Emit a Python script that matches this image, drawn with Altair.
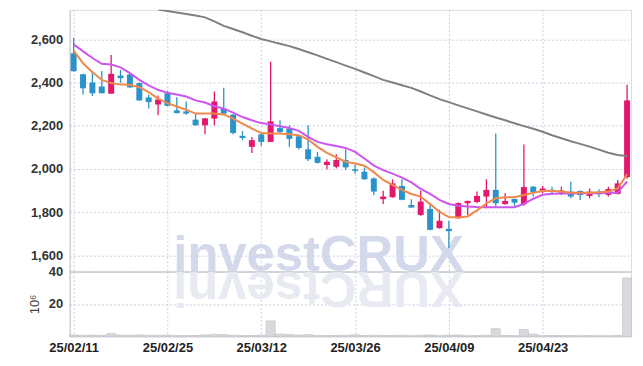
import altair as alt
import pandas as pd

# ---------------- data ----------------
dates = [
    "25/02/11", "25/02/12", "25/02/13", "25/02/14", "25/02/17", "25/02/18", "25/02/19", "25/02/20",
    "25/02/21", "25/02/24", "25/02/25", "25/02/26", "25/02/27", "25/02/28", "25/03/04", "25/03/05",
    "25/03/06", "25/03/07", "25/03/10", "25/03/11", "25/03/12", "25/03/13", "25/03/14", "25/03/17",
    "25/03/18", "25/03/19", "25/03/20", "25/03/21", "25/03/24", "25/03/25", "25/03/26", "25/03/27",
    "25/03/28", "25/03/31", "25/04/01", "25/04/02", "25/04/03", "25/04/04", "25/04/07", "25/04/08",
    "25/04/09", "25/04/10", "25/04/11", "25/04/14", "25/04/15", "25/04/16", "25/04/17", "25/04/18",
    "25/04/21", "25/04/22", "25/04/23", "25/04/24", "25/04/25", "25/04/28", "25/04/29", "25/04/30",
    "25/05/02", "25/05/07", "25/05/08", "25/05/09",
]

opens = [2535, 2438, 2400, 2381, 2348, 2432, 2437, 2397, 2331, 2298,
         2350, 2271, 2266, 2228, 2202, 2233, 2279, 2251, 2153, 2102,
         2160, 2125, 2189, 2187, 2151, 2091, 2056, 2018, 2010, 2041,
         1998, 1987, 1956, 1860, 1869, 1921, 1833, 1787, 1815, 1726,
         1723, 1772, 1841, 1847, 1872, 1903, 1837, 1861, 1837, 1918,
         1899, 1903, 1890, 1895, 1898, 1875, 1895, 1880, 1884, 1962]
highs = [2607, 2440, 2452, 2453, 2527, 2458, 2440, 2400, 2343, 2340,
         2360, 2332, 2312, 2256, 2236, 2358, 2375, 2253, 2175, 2148,
         2162, 2496, 2225, 2202, 2155, 2202, 2079, 2044, 2068, 2091,
         2018, 2007, 1960, 1899, 1952, 1952, 1860, 1899, 1837, 1811,
         1760, 1845, 1853, 1895, 1952, 2164, 1887, 1862, 2113, 1920,
         1921, 1918, 1918, 1941, 1900, 1910, 1906, 1918, 1949, 2389]
lows = [2450, 2344, 2337, 2350, 2348, 2397, 2375, 2315, 2279, 2248,
        2290, 2258, 2251, 2200, 2160, 2202, 2253, 2160, 2133, 2074,
        2106, 2125, 2164, 2102, 2090, 2037, 2025, 1998, 2002, 1995,
        1979, 1950, 1879, 1838, 1867, 1855, 1820, 1783, 1716, 1724,
        1634, 1770, 1787, 1841, 1818, 1826, 1835, 1826, 1829, 1872,
        1887, 1879, 1879, 1864, 1856, 1864, 1869, 1872, 1882, 1955]
closes = [2452, 2373, 2350, 2350, 2440, 2420, 2377, 2317, 2309, 2321,
          2292, 2258, 2256, 2202, 2234, 2312, 2256, 2166, 2143, 2133,
          2125, 2220, 2171, 2139, 2097, 2045, 2028, 2033, 2041, 2007,
          1991, 1952, 1895, 1872, 1933, 1857, 1821, 1849, 1718, 1760,
          1712, 1842, 1852, 1875, 1903, 1841, 1852, 1844, 1916, 1893,
          1909, 1893, 1900, 1872, 1879, 1895, 1883, 1907, 1933, 2317]

# volume in millions of shares
volumes = [0.8, 0.6, 0.7, 0.5, 1.6, 0.7, 0.6, 0.8, 0.6, 0.6,
           0.7, 0.4, 0.4, 0.5, 0.8, 1.2, 1.0, 0.6, 0.4, 0.5,
           0.6, 9.5, 1.3, 1.0, 0.7, 1.1, 0.5, 0.4, 0.5, 0.6,
           0.9, 0.5, 0.6, 0.4, 0.5, 0.6, 0.3, 0.6, 0.8, 0.4,
           0.7, 0.8, 0.3, 0.4, 0.6, 4.7, 0.5, 0.4, 4.2, 1.3,
           0.4, 0.5, 0.4, 0.4, 0.3, 0.4, 0.3, 0.3, 0.5, 36.0]

# short moving average (orange)
ma_short = [2547, 2489, 2447, 2412, 2397, 2390, 2389, 2378, 2355, 2325,
            2304, 2289, 2274, 2256, 2256, 2256, 2252, 2233, 2210, 2187,
            2166, 2164, 2164, 2160, 2156, 2136, 2102, 2074, 2053, 2033,
            2025, 2015, 1985, 1949, 1926, 1903, 1884, 1872, 1837, 1802,
            1777, 1775, 1780, 1808, 1840, 1864, 1869, 1869, 1879, 1890,
            1898, 1899, 1895, 1890, 1890, 1890, 1892, 1895, 1910, 1975]
# medium moving average (violet)
ma_mid = [2577, 2544, 2513, 2486, 2483, 2470, 2443, 2412, 2386, 2366,
          2352, 2344, 2335, 2317, 2307, 2290, 2279, 2260, 2240, 2225,
          2212, 2206, 2197, 2189, 2176, 2148, 2125, 2114, 2106, 2097,
          2079, 2048, 2015, 1994, 1978, 1960, 1938, 1908, 1884, 1857,
          1838, 1830, 1826, 1824, 1823, 1823, 1823, 1823, 1838, 1862,
          1880, 1885, 1886, 1886, 1887, 1887, 1887, 1890, 1890, 1942]
# long moving average (gray), visible from the 10th session on
ma_long_dates = dates[9:]
ma_long = [2738, 2731, 2724, 2717, 2710, 2701, 2683, 2662, 2647, 2632,
           2616, 2601, 2590, 2579, 2568, 2555, 2540, 2525, 2509, 2494,
           2478, 2463, 2446, 2429, 2412, 2400, 2387, 2375, 2358, 2340,
           2323, 2309, 2294, 2280, 2266, 2252, 2238, 2225, 2211, 2198,
           2186, 2172, 2156, 2142, 2128, 2116, 2103, 2089, 2075, 2064, 2060]

price_ticks = [1600, 1800, 2000, 2200, 2400, 2600]
volume_ticks = [20, 40]
date_ticks = dates[::10]
watermark = "investCRUX"

# ---------------- build chart ----------------
df = pd.DataFrame({
    "date": dates, "open": opens, "high": highs, "low": lows, "close": closes,
    "volume": volumes, "ma_short": ma_short, "ma_mid": ma_mid,
})
df["dir"] = ["up" if c >= o else "down" for o, c in zip(opens, closes)]
long_df = pd.DataFrame({"date": ma_long_dates, "ma": ma_long})

UP = "#e3186c"
DOWN = "#2b93c9"
GRID = "#c9cfe2"
LABEL_FONT = "Liberation Sans"
LABEL_SIZE = 13

x_scale = alt.Scale(type="point", padding=0.42)
price_scale = alt.Scale(domain=[1525, 2736], nice=False, zero=False)
color_enc = alt.Color("dir:N", scale=alt.Scale(domain=["up", "down"], range=[UP, DOWN]), legend=None)


def x_price():
    return alt.X("date:O", sort=dates, scale=x_scale, title=None,
                 axis=alt.Axis(values=date_ticks, labels=False, ticks=False,
                               domain=True, domainColor="#a9a9b2", domainWidth=1,
                               grid=True, gridColor=GRID, gridDash=[2, 2], gridWidth=1))


def y_price(field):
    return alt.Y(field, scale=price_scale, title=None,
                 axis=alt.Axis(values=price_ticks, format=",d", ticks=False,
                               domainColor="#c4c4cc", grid=True, gridColor=GRID,
                               gridDash=[2, 2], labelPadding=7, labelFont=LABEL_FONT,
                               labelFontSize=LABEL_SIZE, labelFontWeight="bold",
                               labelColor="#333333"))


base = alt.Chart(df)

wm = alt.Chart(pd.DataFrame({"t": [watermark]})).mark_text(
    font="Liberation Sans", fontWeight="bold", fontSize=51, color="#d3d9ea",
    align="center", baseline="alphabetic",
).encode(text="t:N", x=alt.value(250), y=alt.value(262))

wick = base.mark_rule(strokeWidth=1.3).encode(
    x=x_price(), y=y_price("low:Q"), y2="high:Q", color=color_enc)
body = base.mark_bar(size=6).encode(
    x=x_price(), y=y_price("open:Q"), y2="close:Q", color=color_enc)
long_line = alt.Chart(long_df).mark_line(color="#808080", strokeWidth=2, clip=True).encode(
    x=x_price(), y=y_price("ma:Q"))
mid_line = base.mark_line(color="#cc55ee", strokeWidth=2, clip=True).encode(
    x=x_price(), y=y_price("ma_mid:Q"))
short_line = base.mark_line(color="#ef8a4c", strokeWidth=2, clip=True).encode(
    x=x_price(), y=y_price("ma_short:Q"))

price = alt.layer(wm, wick, body, long_line, mid_line, short_line).properties(width=564, height=263)

reflection = alt.Chart(pd.DataFrame({"t": [watermark[::-1]]})).mark_text(
    font="Liberation Sans", fontWeight="bold", fontSize=51, color="#e8eaf2",
    align="center", baseline="alphabetic", angle=180,
).encode(text="t:N", x=alt.value(250), y=alt.value(0))

vol_bars = base.mark_bar(size=9, color="#d9d9de", stroke="#c6c6cd", strokeWidth=0.8).encode(
    x=alt.X("date:O", sort=dates, scale=x_scale, title=None,
            axis=alt.Axis(values=date_ticks, labelAngle=0, ticks=False, domainColor="#c4c4cc",
                          grid=True, gridColor=GRID, gridDash=[2, 2], labelPadding=5,
                          labelFont=LABEL_FONT, labelFontSize=LABEL_SIZE, labelFontWeight="bold",
                          labelColor="#222222")),
    y=alt.Y("volume:Q", scale=alt.Scale(domain=[0, 40], nice=False),
            axis=alt.Axis(values=volume_ticks, title="10⁶", ticks=False, domainColor="#c4c4cc",
                          grid=True, gridColor=GRID, gridDash=[2, 2], labelPadding=7,
                          labelFont=LABEL_FONT, labelFontSize=LABEL_SIZE, labelFontWeight="bold",
                          labelColor="#333333", titleFont="Liberation Sans", titleFontSize=13,
                          titleFontWeight="normal", titleColor="#444444", titlePadding=7)),
)

volume = alt.layer(reflection, vol_bars).properties(width=564, height=65)

chart = alt.vconcat(price, volume, spacing=0, bounds="flush").properties(
    padding={"left": 20, "top": 0, "right": 2, "bottom": 2}
).configure_view(stroke="#dcdce4", strokeWidth=1).configure(background="white")

chart.save("out.html", embed_options={"renderer": "svg", "actions": False})
